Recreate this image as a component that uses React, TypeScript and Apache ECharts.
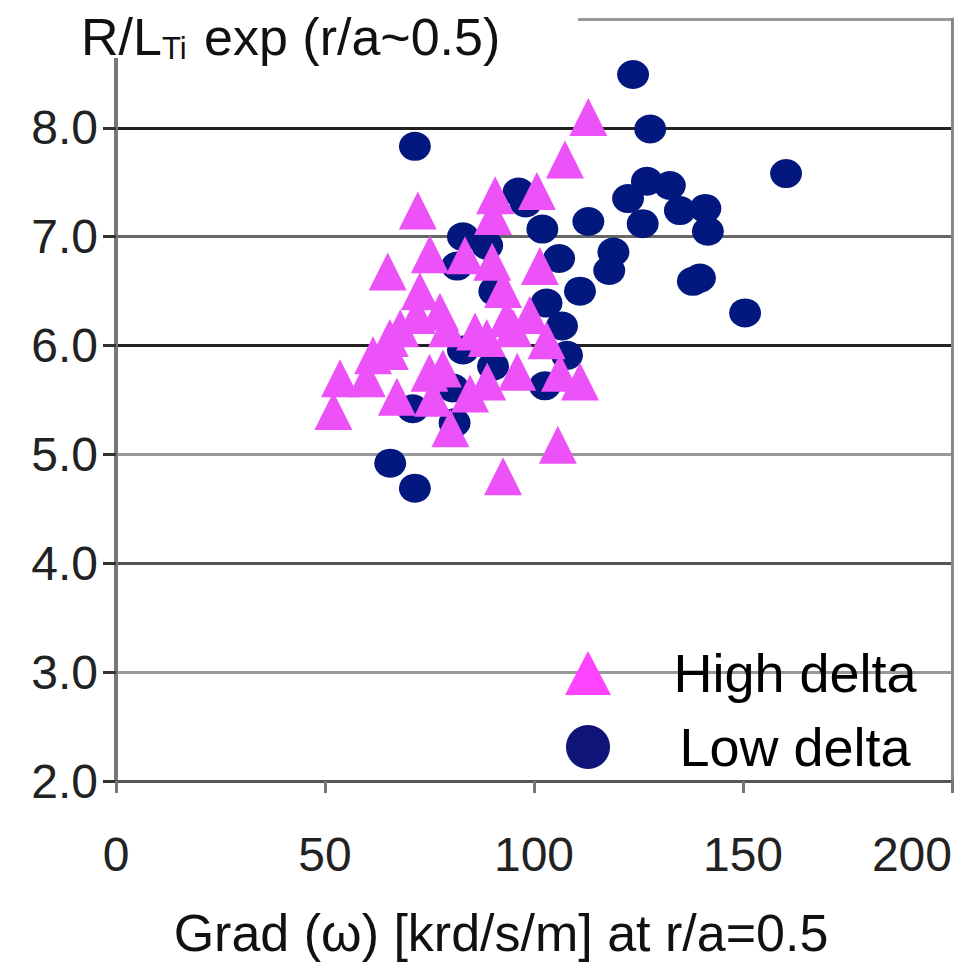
import React, { useEffect, useRef } from "react";
import * as echarts from "echarts";

const xTicks = [0, 50, 100, 150, 200];
const yTickLabels = ["2.0", "3.0", "4.0", "5.0", "6.0", "7.0", "8.0"];

const highDelta: number[][] = [
  [113, 8.1], [107.4, 7.71], [90.7, 7.38], [90.2, 7.19], [100.7, 7.42], [72.2, 7.24],
  [75.1, 6.84], [65, 6.68], [83.5, 6.83], [90, 6.77], [101.4, 6.73], [72.7, 6.5],
  [92.6, 6.52], [72, 6.28], [77.5, 6.31], [68, 6.16], [65.5, 6.07], [79.2, 6.16],
  [93.5, 6.25], [99, 6.28], [85.9, 6.13], [88.7, 6.07], [95, 6.16], [103, 6.05],
  [61.5, 5.91], [65.5, 5.95], [53.6, 5.7], [60, 5.7], [75, 5.75], [78.2, 5.79],
  [88.8, 5.67], [96, 5.76], [106.2, 5.75], [111, 5.67], [67.2, 5.53], [75.8, 5.52],
  [84.7, 5.56], [52, 5.4], [80, 5.24], [105.7, 5.09], [92.6, 4.8],
];

const lowDelta: number[][] = [
  [123.7, 8.49], [127.8, 7.99], [71.5, 7.83], [160.3, 7.58], [127, 7.51], [132.5, 7.47],
  [122.5, 7.35], [134.9, 7.24], [126, 7.12], [141, 7.26], [141.6, 7.05], [113, 7.14],
  [102, 7.07], [96.3, 7.41], [98, 7.31], [106, 6.8], [119, 6.86], [118, 6.69],
  [139.7, 6.62], [138, 6.59], [111, 6.5], [150.5, 6.3], [103, 6.39], [106.7, 6.18],
  [107.9, 5.91], [83, 7.0], [88.8, 6.92], [81.6, 6.73], [90.5, 6.5], [83, 5.96],
  [90.2, 5.81], [80.6, 5.61], [102.6, 5.63], [71, 5.42], [81, 5.29], [65.6, 4.92],
  [71.5, 4.69],
];

const FONT = "Liberation Sans, Arial, sans-serif";

export default function App() {
  const ref = useRef<HTMLDivElement>(null);
  useEffect(() => {
    if (!ref.current) return;
    const chart = echarts.init(ref.current, null, { renderer: "svg" });
    chart.setOption({
      animation: false,
      backgroundColor: "#fff",
      title: {
        left: 76,
        top: 4,
        z: 6,
        text: "{a|R/L}{b|Ti}{a| exp (r/a~0.5)}",
        textStyle: {
          fontWeight: "normal",
          rich: {
            a: { fontFamily: FONT, fontSize: 52, fontWeight: "normal", color: "#111" },
            b: { fontFamily: FONT, fontSize: 31, fontWeight: "normal", color: "#111", verticalAlign: "bottom", padding: [24, 3, 0, 0] },
          },
        },
      },
      graphic: [
        { type: "rect", z: 3, shape: { x: 60, y: 0, width: 518, height: 58 }, style: { fill: "#fff" } },
      ],
      legend: {
        orient: "vertical",
        left: 560,
        top: 641,
        itemWidth: 46,
        itemHeight: 44,
        itemGap: 20,
        data: [
          { name: "High delta", icon: "triangle", itemStyle: { color: "#FF44FF", opacity: 1 } },
          { name: "Low delta", icon: "circle", itemStyle: { color: "#0E1478", opacity: 1 } },
        ],
        formatter: (n: string) => `{t|${n}}`,
        textStyle: {
          rich: {
            t: { fontFamily: FONT, fontSize: 54, color: "#000", width: 358, align: "center", lineHeight: 50 },
          },
        },
      },
      grid: { left: 116, right: 23, top: 19, bottom: 180, containLabel: false },
      xAxis: {
        type: "value",
        min: 0,
        max: 200,
        interval: 50,
        name: "Grad (\u03c9) [krd/s/m] at r/a=0.5",
        nameLocation: "middle",
        nameGap: 126,
        nameTextStyle: { fontFamily: FONT, fontSize: 52, color: "#111", padding: [0, 66, 0, 0] },
        axisLine: { show: true, lineStyle: { color: "#555", width: 3 } },
        axisTick: { show: true, length: 12, lineStyle: { color: "#777", width: 3 } },
        splitLine: { show: false },
        axisLabel: {
          margin: 49,
          fontFamily: FONT,
          fontSize: 48,
          color: "#222",
          alignMaxLabel: "right",
          formatter: (v: number) => (xTicks.includes(v) ? String(v) : ""),
        },
      },
      yAxis: [
        {
          type: "value",
          min: 2,
          max: 9,
          interval: 1,
          axisLine: { show: true, lineStyle: { color: "#777", width: 4 } },
          axisTick: { show: true, inside: false, length: 13, lineStyle: { color: "#333", width: 3 } },
          splitLine: {
            show: true,
            lineStyle: {
              width: 3,
              color: ["#555", "#999", "#555", "#999", "#222", "#666", "#222", "#999"],
            },
          },
          axisLabel: {
            margin: 18,
            fontFamily: FONT,
            fontSize: 48,
            color: "#222",
            formatter: (v: number) => yTickLabels.find((t) => Number(t) === v) ?? "",
          },
        },
        {
          type: "value",
          min: 2,
          max: 9,
          interval: 1,
          position: "right",
          axisLine: { show: true, lineStyle: { color: "#888", width: 3 } },
          axisTick: { show: false },
          axisLabel: { show: false },
          splitLine: { show: false },
        },
      ],
      series: [
        {
          name: "Low delta",
          type: "scatter",
          symbol: "circle",
          symbolSize: [32, 29],
          itemStyle: { color: "#02187F", opacity: 1 },
          data: lowDelta,
          z: 2,
        },
        {
          name: "High delta",
          type: "scatter",
          symbol: "triangle",
          symbolSize: [38, 38],
          itemStyle: { color: "#EC52F8", opacity: 1 },
          data: highDelta,
          z: 3,
        },
      ],
    });
    return () => chart.dispose();
  }, []);
  return (
    <div
      ref={ref}
      style={{ position: "absolute", left: 0, top: 0, width: 975, height: 964, overflow: "hidden" }}
    />
  );
}
